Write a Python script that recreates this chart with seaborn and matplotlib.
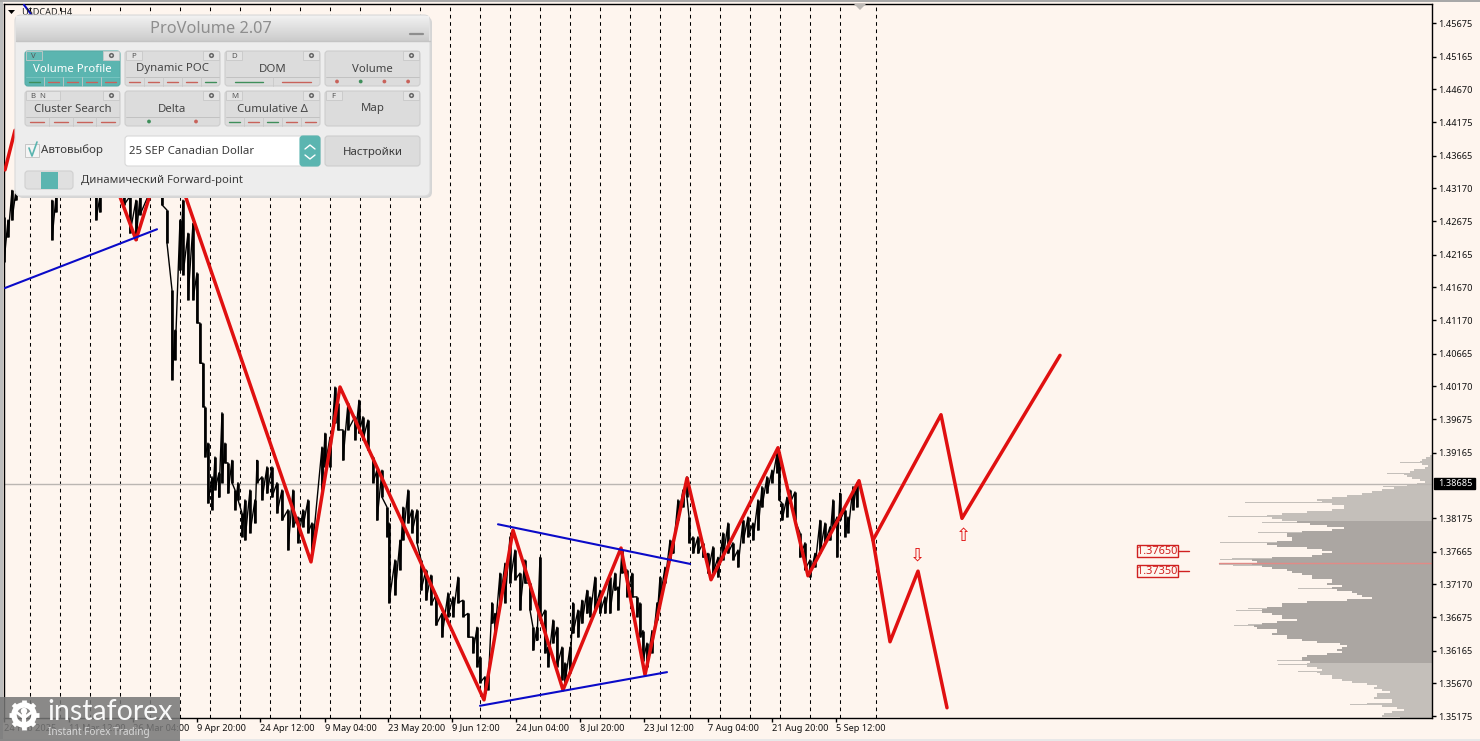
import numpy as np
import pandas as pd
import seaborn as sns
import matplotlib
matplotlib.use("Agg")
import matplotlib.pyplot as plt
from matplotlib.patches import FancyBboxPatch, Rectangle, Circle, Polygon

# ---------- data ----------
bars = [4,8,12,16,52,56,96,100,124,130,136,140,148,162,167,172,175,180,183,188,193,197,200,203,205,208,212,215,219,222,225,228,232,235,238,242,245,250,255,257,262,267,272,277,282,288,293,298,303,308,312,322,325,330,335,338,343,348,355,359,363,368,373,377,382,387,389,395,400,403,408,412,417,421,426,431,436,442,448,453,458,463,468,473,477,480,485,488,492,495,500,505,510,515,520,525,530,533,537,540,545,548,553,557,562,565,570,573,578,582,587,590,595,600,605,610,615,618,622,627,632,637,640,643,647,652,657,660,665,670,673,678,683,687,689,693,698,703,708,713,718,723,728,733,738,743,748,753,758,762,767,772,777,779,782,787,790,795,800,805,810,815,820,825,830,833,837,840,845,848,853,857]
highs = [1.4274,1.4269,1.4314,1.4314,1.4299,1.4305,1.4305,1.4305,1.4305,1.4305,1.4299,1.4305,1.4305,1.4305,1.4284,1.4163,1.4102,1.4269,1.4299,1.4249,1.4264,1.4189,1.4113,1.4052,1.3986,1.3931,1.3880,1.3910,1.3886,1.3977,1.3931,1.3901,1.3905,1.3860,1.3871,1.3825,1.3845,1.3860,1.3845,1.3905,1.3880,1.3895,1.3895,1.3871,1.3860,1.3830,1.3860,1.3819,1.3830,1.3845,1.3810,1.3925,1.3946,1.3940,1.4016,1.3992,1.3951,1.3992,1.3971,1.3996,1.3971,1.3966,1.3910,1.3890,1.3890,1.3834,1.3810,1.3754,1.3784,1.3834,1.3860,1.3830,1.3830,1.3754,1.3739,1.3731,1.3701,1.3673,1.3704,1.3698,1.3728,1.3693,1.3673,1.3637,1.3652,1.3607,1.3577,1.3583,1.3689,1.3673,1.3734,1.3749,1.3789,1.3769,1.3734,1.3754,1.3719,1.3652,1.3652,1.3758,1.3678,1.3622,1.3663,1.3652,1.3622,1.3598,1.3622,1.3689,1.3678,1.3693,1.3708,1.3698,1.3728,1.3708,1.3698,1.3728,1.3734,1.3713,1.3769,1.3739,1.3734,1.3698,1.3689,1.3647,1.3628,1.3647,1.3689,1.3728,1.3743,1.3784,1.3784,1.3845,1.3860,1.3880,1.3819,1.3789,1.3789,1.3780,1.3764,1.3774,1.3758,1.3795,1.3810,1.3780,1.3769,1.3814,1.3819,1.3810,1.3845,1.3865,1.3880,1.3890,1.3916,1.3916,1.3840,1.3849,1.3860,1.3857,1.3795,1.3780,1.3754,1.3764,1.3814,1.3810,1.3804,1.3845,1.3819,1.3855,1.3830,1.3819,1.3865,1.3871]
lows = [1.4205,1.4243,1.4269,1.4299,1.4239,1.4281,1.4269,1.4281,1.4292,1.4249,1.4239,1.4277,1.4299,1.4292,1.4234,1.4027,1.4057,1.4193,1.4186,1.4148,1.4148,1.4113,1.4052,1.3986,1.3910,1.3840,1.3830,1.3860,1.3849,1.3871,1.3901,1.3855,1.3871,1.3830,1.3845,1.3789,1.3784,1.3795,1.3810,1.3871,1.3845,1.3855,1.3849,1.3825,1.3814,1.3769,1.3804,1.3780,1.3804,1.3795,1.3764,1.3860,1.3895,1.3895,1.3961,1.3951,1.3905,1.3951,1.3936,1.3946,1.3936,1.3921,1.3871,1.3814,1.3849,1.3789,1.3689,1.3701,1.3739,1.3784,1.3810,1.3795,1.3780,1.3708,1.3693,1.3686,1.3655,1.3637,1.3668,1.3668,1.3689,1.3668,1.3637,1.3613,1.3592,1.3568,1.3552,1.3557,1.3658,1.3643,1.3689,1.3689,1.3719,1.3724,1.3678,1.3719,1.3678,1.3617,1.3632,1.3663,1.3613,1.3592,1.3628,1.3592,1.3572,1.3568,1.3583,1.3643,1.3637,1.3658,1.3673,1.3668,1.3678,1.3673,1.3673,1.3673,1.3708,1.3678,1.3734,1.3698,1.3698,1.3668,1.3637,1.3601,1.3592,1.3613,1.3663,1.3693,1.3719,1.3754,1.3764,1.3814,1.3834,1.3849,1.3780,1.3764,1.3764,1.3758,1.3734,1.3734,1.3728,1.3754,1.3764,1.3754,1.3743,1.3780,1.3789,1.3784,1.3799,1.3834,1.3855,1.3871,1.3886,1.3845,1.3814,1.3819,1.3840,1.3814,1.3758,1.3739,1.3728,1.3743,1.3764,1.3780,1.3784,1.3804,1.3758,1.3814,1.3789,1.3795,1.3830,1.3834]

wave_x = [5,15]
wave_y = [1.4345,1.4405]
wave2_x = [110,136,150]
wave2_y = [1.4345,1.4239,1.4307]
wave3_x = [185,311,340,484,513,563,621,645,687,711,778,808,859,873,890,918,947]
wave3_y = [1.4307,1.3751,1.4016,1.3542,1.3799,1.3557,1.3772,1.3580,1.3878,1.3724,1.3924,1.3730,1.3874,1.3784,1.3630,1.3737,1.3530]
fore_x = [873,941,962,1060]
fore_y = [1.3784,1.3974,1.3817,1.4064]

trend_lines = [([5,157],[1.4166,1.4255]),([498,690],[1.3808,1.3748]),([480,667],[1.3533,1.3584]),([24,33],[1.4595,1.4577])]

separators = list(range(30,841,30)) + [876]

date_pos = [4,69,133,197,260,325,388,452,516,580,644,708,772,836]
date_labels = ["24 Feb 2025","11 Mar 12:00","26 Mar 04:00","9 Apr 20:00","24 Apr 12:00","9 May 04:00","23 May 20:00","9 Jun 12:00","24 Jun 04:00","8 Jul 20:00","23 Jul 12:00","7 Aug 04:00","21 Aug 20:00","5 Sep 12:00"]
price_ticks = [1.45675,1.45165,1.44670,1.44175,1.43665,1.43170,1.42675,1.42165,1.41670,1.41170,1.40665,1.40170,1.39675,1.39165,1.38175,1.37665,1.37170,1.36675,1.36165,1.35670,1.35175]
last_price = 1.38685
poc_price = 1.37493
levels = [1.37650,1.37350]

profile_top = 1.39114
profile_step = 0.000303
profile_vol = [2,6,10,12,10,4,7,18,22,28,25,20,12,7,15,25,38,50,60,70,85,100,115,110,100,88,88,100,125,150,165,160,150,135,122,105,88,100,130,145,145,140,140,155,165,155,125,110,100,110,120,160,180,175,180,170,160,145,140,130,120,120,100,100,105,90,100,95,80,75,70,60,85,125,150,150,165,170,170,160,150,150,135,155,170,178,175,155,155,160,145,145,130,115,92,85,90,95,90,105,125,130,130,122,125,125,115,110,115,112,100,100,90,80,65,55,58,50,42,55,55,58,40,40,65,50,35,28,40,48,50,32]
spike_price = [1.39023,1.38842,1.38660,1.38417,1.38205,1.38114,1.37963,1.37811,1.37569,1.37539,1.37478,1.37448,1.37114,1.36811,1.36781,1.36569,1.36539,1.36023,1.35963,1.35842,1.35357]
spike_vol = [32,45,49,187,204,170,174,212,200,212,213,199,134,184,196,184,198,155,154,134,82]

BG = "#FEF5EE"
RED = "#E01010"
BLUE = "#0A0AC8"

sns.set_style("white")
plt.rcParams["font.family"] = ["Noto Sans", "DejaVu Sans"]

fig = plt.figure(figsize=(14.8, 7.41), dpi=100, facecolor=BG)
W, H = 1480, 741
ax = fig.add_axes([4/W, 1-718/H, (1432-4)/W, (718-4)/H], facecolor=BG)
ax.set_xlim(4, 1432)
ax.set_ylim(1.35145, 1.45963)

# volume profile on its own reversed scale
ax2 = ax.twiny()
ax2.set_xlim(1428, 0)
ax2.set_zorder(1)
ax.set_zorder(2)
ax.patch.set_visible(False)
ax2.patch.set_facecolor(BG)
prof_price = profile_top - profile_step*np.arange(len(profile_vol))
prof_cols = ["#ABA6A2" if 1.35993 < p < 1.38130 else "#C4BFBA" for p in prof_price]
ax2.barh(spike_price, spike_vol, height=profile_step*0.5, color="#C4BFBA", linewidth=0)
ax2.barh(prof_price, profile_vol, height=profile_step*0.98, color=prof_cols, linewidth=0)
ax2.plot([213,0],[poc_price,poc_price], color="#E28A86", lw=1)
ax2.set_xticks([])
for s in ax2.spines.values():
    s.set_visible(False)

# separators and price line
for x in separators:
    ax.axvline(x, color="black", lw=0.75, dashes=(3.5,3.5), zorder=1)
ax.axhline(last_price, color="#BBB6B2", lw=1, zorder=1)

# price bars
bars_a = np.array(bars); hi = np.array(highs); lo = np.array(lows)
ax.vlines(bars_a, lo, hi, color="black", lw=1.9, zorder=2)
zig = pd.DataFrame({"bar": np.repeat(bars_a, 2), "price": np.column_stack([hi, lo]).ravel()})
gap_id = np.cumsum(np.r_[0, np.diff(bars_a) > 10])
zig["run"] = np.repeat(gap_id, 2)
for _, part in zig.groupby("run"):
    sns.lineplot(data=part, x="bar", y="price", estimator=None, sort=False, color="black", lw=1, ax=ax, zorder=2)

# trend lines
for xs, ys in trend_lines:
    sns.lineplot(x=xs, y=ys, estimator=None, sort=False, color=BLUE, lw=1.5, ax=ax, zorder=4)

# waves
for xs, ys in [(wave_x,wave_y),(wave2_x,wave2_y),(wave3_x,wave3_y),(fore_x,fore_y)]:
    sns.lineplot(x=xs, y=ys, estimator=None, sort=False, color=RED, lw=2.5, ax=ax, zorder=3)

ax.set_xlabel(""); ax.set_ylabel("")
ax.set_xticks(date_pos)
ax.set_xticklabels(date_labels, ha="left", fontsize=6.6, color="#111111")
ax.tick_params(axis="x", length=3, width=1, pad=1, bottom=True, color="black")
ax.yaxis.tick_right()
ax.set_yticks(price_ticks)
ax.set_yticklabels([f"{t:.5f}" for t in price_ticks], fontsize=6.6, color="#111111")
ax.tick_params(axis="y", length=3, width=1, pad=1.5, right=True, left=False, color="black")
for s in ax.spines.values():
    s.set_color("black"); s.set_linewidth(1); s.set_visible(True)
ax.grid(False)

# overlay in image coordinates for terminal furniture
ov = fig.add_axes([0,0,1,1], facecolor="none")
ov.set_xlim(0,W); ov.set_ylim(H,0); ov.axis("off"); ov.set_zorder(5)

def T(x,y,s,**k):
    k.setdefault("va","center"); k.setdefault("ha","left"); k.setdefault("color","#3a3a3a"); k.setdefault("fontsize",8.2)
    return ov.text(x,y+1,s,**k)

def RB(x0,y0,x1,y1,fc,ec="#c9c9c9",r=3,z=6,lw=0.8):
    p = FancyBboxPatch((x0+r,y0+r),x1-x0-2*r,y1-y0-2*r,boxstyle=f"round,pad={r},rounding_size={r}",fc=fc,ec=ec,lw=lw,zorder=z)
    ov.add_patch(p); return p

# level tags
for lv, yy in zip(levels,[551,571]):
    ov.add_patch(Rectangle((1137,yy-6),41,12,fc=BG,ec="#D02020",lw=1,zorder=3))
    T(1157.5,yy-1,f"{lv:.5f}",ha="center",fontsize=7.9,color="#D02020",zorder=4)
    ov.plot([1178,1189],[yy,yy],color="#D02020",lw=1,zorder=3)

# forecast arrows
T(917,555,"\u21e9",ha="center",color="#E01010",fontsize=13,family=["DejaVu Sans"],zorder=3)
T(963,535,"\u21e7",ha="center",color="#E01010",fontsize=13,family=["DejaVu Sans"],zorder=3)

# last price box
ov.add_patch(Rectangle((1434,478),41,10.5,fc="black",ec="black",zorder=3))
T(1438,482.5,f"{last_price:.5f}",fontsize=6.6,color="white",zorder=4)

# header
ov.add_patch(Polygon([(8,10),(15,10),(11.5,14)],fc="black",ec="none",zorder=3))
T(21,11,"USDCAD,H4",fontsize=6.6,color="#222222",zorder=3)
ov.add_patch(Polygon([(854,4),(866,4),(860,10)],fc="#BDB9B5",ec="none",zorder=3))

# outer frame hints
ov.add_patch(Rectangle((0,0),2.5,H,fc="#BDBDBD",ec="none",zorder=2))
ov.add_patch(Rectangle((0,0),W,2,fc="#A8A8A8",ec="none",zorder=2))
ov.add_patch(Rectangle((0,739),W,2,fc="#E8E8E8",ec="none",zorder=2))

# ProVolume panel
RB(17,17,432,198,"#D5D5D5",ec="none",r=6,z=5)
RB(15,15,430,196,"#EDEDED",ec="#DADADA",r=6,z=6)
grad = np.linspace(0.94,0.80,24).reshape(-1,1)
ov.imshow(grad,extent=(16,429,41,16),cmap="gray",vmin=0,vmax=1,aspect="auto",zorder=6.1)
ov.set_xlim(0,W); ov.set_ylim(H,0)
ov.plot([15.5,429.5],[41,41],color="#C4C4C4",lw=1,zorder=6.2)
T(211,28,"ProVolume 2.07",ha="center",fontsize=11.8,color="#8E8E8E",zorder=7)
ov.plot([410,423],[33.5,33.5],color="#8E8E8E",lw=1.6,zorder=7)

cols = [25,125,225,325]
rows = [51,91]
names = [["Volume Profile","Dynamic POC","DOM","Volume"],["Cluster Search","Delta","Cumulative \u0394","Map"]]
tabs = [["V","P","D",""],["B  N","","M","F"]]
GRN, RD = "#3E8E5A", "#C8625A"
sub = [[[GRN,RD,RD,RD,RD],[RD,RD,RD,RD,GRN],[GRN,RD],"dots4"],
       [[RD,RD,RD,RD],"dots2",[GRN,RD,GRN,RD,RD],None]]
for r,y0 in enumerate(rows):
    for c,x0 in enumerate(cols):
        active = (r==0 and c==0)
        RB(x0,y0,x0+95,y0+35,"#5BB5B0" if active else "#DCDCDC",ec="#56ABA6" if active else "#CDCDCD",r=3,z=7)
        T(x0+47.5,y0+17,names[r][c],ha="center",fontsize=8.2,color="white" if active else "#444444",zorder=8)
        if tabs[r][c]:
            ov.add_patch(Rectangle((x0+1,y0),16 if len(tabs[r][c])==1 else 34,9,fc="#E3E3E3" if not active else "#63B9B4",ec="#C8C8C8",lw=0.6,zorder=8))
            T(x0+6,y0+4,tabs[r][c],fontsize=5.6,color="#555555",zorder=9)
        ov.add_patch(Rectangle((x0+78,y0),16,9,fc="#E3E3E3",ec="#C8C8C8",lw=0.6,zorder=8))
        ov.add_patch(Circle((x0+86.5,y0+4.5),2.6,fc="#666666",ec="none",zorder=9))
        ov.add_patch(Circle((x0+86.5,y0+4.5),1,fc="#E3E3E3",ec="none",zorder=10))
        s = sub[r][c]
        if s is None:
            continue
        ys = y0+30.5
        ov.plot([x0+1,x0+94],[y0+26,y0+26],color="#BEBEBE" if not active else "#7CC6C2",lw=0.6,zorder=8)
        if s == "dots4":
            for i,cc in enumerate([RD,GRN,RD,RD]):
                ov.add_patch(Circle((x0+12+i*23.7,ys),1.9,fc=cc,ec="none",zorder=9))
        elif s == "dots2":
            for cx,cc in [(24,GRN),(71,RD)]:
                ov.add_patch(Circle((x0+cx,ys),1.9,fc=cc,ec="none",zorder=9))
        else:
            n = len(s); w = 95/n
            for i,cc in enumerate(s):
                xm = x0+w*(i+.5)
                hw = w*0.3
                ov.plot([xm-hw,xm+hw],[ys,ys],color=cc,lw=1,zorder=9)
                if i: ov.plot([x0+w*i]*2,[y0+26,y0+35],color="#C8C8C8",lw=0.6,zorder=9)

# checkbox row
ov.add_patch(Rectangle((25,144),14,13,fc="#F4F4F4",ec="#C6C6C6",lw=0.7,zorder=7))
ov.plot([29,32,37],[148,156,142],color="#5BB5B0",lw=1.2,zorder=8)
T(41,149.5,"\u0410\u0432\u0442\u043e\u0432\u044b\u0431\u043e\u0440",fontsize=8.3,zorder=8)
RB(125,136,320,166,"white",ec="#D8D8D8",r=3,z=7)
RB(300,136,320,166,"#5BB5B0",ec="#5BB5B0",r=3,z=8)
ov.plot([305,310,315],[149,145,149],color="white",lw=1,zorder=9)
ov.plot([305,310,315],[155,159,155],color="white",lw=1,zorder=9)
T(129,151,"25 SEP Canadian Dollar",fontsize=8.2,zorder=9)
RB(325,136,420,166,"#DCDCDC",ec="#CDCDCD",r=3,z=7)
T(372.5,151,"\u041d\u0430\u0441\u0442\u0440\u043e\u0439\u043a\u0438",ha="center",fontsize=8.2,zorder=8)
RB(25,171,73,189,"#E0E0E0",ec="#D0D0D0",r=3,z=7)
ov.add_patch(Rectangle((41,171.5),16.5,17,fc="#5BB5B0",ec="none",zorder=8))
T(81,180,"\u0414\u0438\u043d\u0430\u043c\u0438\u0447\u0435\u0441\u043a\u0438\u0439 Forward-point",fontsize=8.1,zorder=8)

# watermark
ov.add_patch(Rectangle((0,697),180,44,fc="#777777",ec="none",alpha=0.86,zorder=20))
ov.add_patch(Circle((24,715),10,fc="none",ec="white",lw=4,zorder=21))
for a in np.arange(0,360,45):
    ca,sa = np.cos(np.radians(a)),np.sin(np.radians(a))
    ov.plot([24+11*ca,24+15*ca],[715+11*sa,715+15*sa],color="white",lw=3.4,zorder=21,solid_capstyle="butt")
ov.add_patch(Circle((24,711),3.2,fc="white",ec="none",zorder=21))
ov.plot([24,24],[713,728],color="white",lw=3,zorder=21)
ov.plot([15,24,33],[711,718,711],color="white",lw=2,zorder=21)
T(47,711,"instaforex",fontsize=20.5,color="white",family=["Lato","DejaVu Sans"],zorder=21,alpha=0.95)
T(48,731,"Instant Forex Trading",fontsize=7.2,color="#D8D8D8",zorder=21)

fig.savefig("out.png", dpi=100, facecolor=BG)
